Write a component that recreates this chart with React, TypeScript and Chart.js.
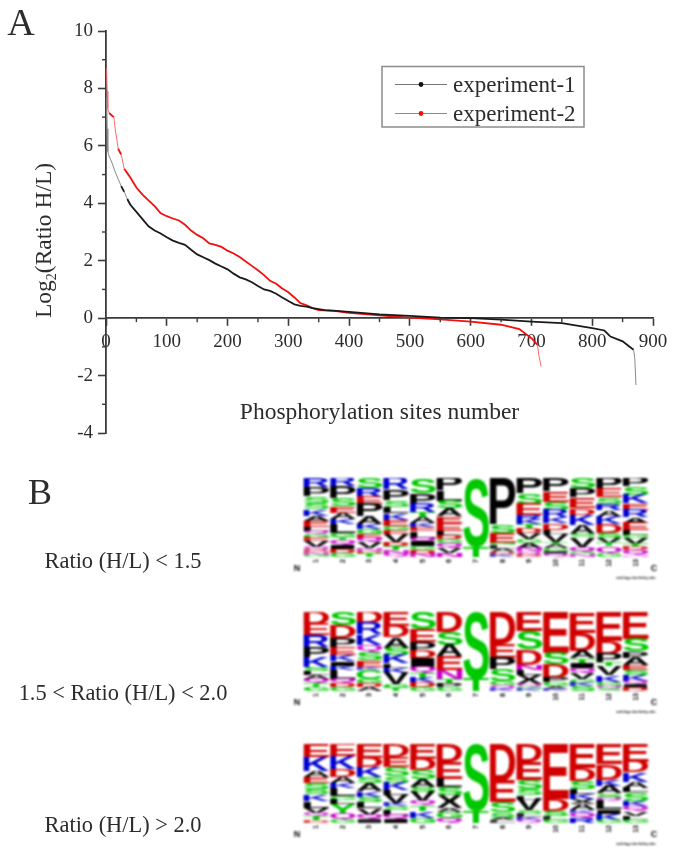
import React, { useEffect, useRef } from "react";
import { Chart, registerables } from "chart.js";

Chart.register(...registerables);

const SERIF = '"Liberation Serif", serif';
const SANS = '"Liberation Sans", sans-serif';

// Panel A: sorted log2 ratios, [site number, ratio]
const experiment1: [number, number][] = [
  [1, 7.7], [2, 6.6], [3, 5.8], [5, 5.65], [10, 5.4], [15, 5.1], [20, 4.85], [25, 4.6], [30, 4.4], [35, 4.15],
  [40, 3.95], [50, 3.7], [60, 3.45], [70, 3.2], [80, 3.05], [90, 2.95], [100, 2.82], [110, 2.7], [120, 2.62],
  [130, 2.55], [140, 2.38], [150, 2.22], [160, 2.12], [170, 2.02], [180, 1.9], [190, 1.8], [200, 1.7], [210, 1.55],
  [220, 1.42], [230, 1.35], [240, 1.25], [250, 1.12], [260, 1.0], [270, 0.95], [280, 0.85], [290, 0.72], [300, 0.6],
  [310, 0.48], [320, 0.43], [330, 0.4], [340, 0.35], [360, 0.28], [380, 0.25], [400, 0.22], [450, 0.13], [500, 0.08],
  [550, 0.02], [600, 0.0], [650, -0.05], [700, -0.12], [750, -0.17], [800, -0.35], [820, -0.43], [830, -0.64],
  [850, -0.81], [860, -0.97], [868, -1.1], [870, -1.4], [872, -2.33],
];
const experiment2: [number, number][] = [
  [1, 8.7], [2, 7.9], [3, 7.3], [5, 7.15], [10, 7.05], [13, 7.0], [15, 6.6], [18, 6.2], [20, 5.9], [25, 5.7],
  [30, 5.2], [35, 5.05], [40, 4.9], [50, 4.55], [60, 4.3], [70, 4.1], [80, 3.9], [90, 3.65], [100, 3.55], [110, 3.47],
  [120, 3.4], [130, 3.25], [140, 3.05], [150, 2.9], [160, 2.78], [170, 2.6], [180, 2.55], [190, 2.48], [200, 2.35],
  [210, 2.25], [220, 2.13], [230, 1.97], [240, 1.82], [250, 1.67], [260, 1.5], [270, 1.3], [280, 1.2], [290, 1.03],
  [300, 0.9], [310, 0.72], [320, 0.52], [330, 0.45], [340, 0.35], [350, 0.28], [375, 0.25], [400, 0.18], [450, 0.1],
  [500, 0.02], [550, -0.04], [600, -0.12], [650, -0.23], [680, -0.38], [700, -0.7], [710, -0.93], [712, -1.28], [716, -1.69],
];
const xMinorTicks = [50, 150, 250, 350, 450, 550, 650, 750, 850];
const yMinorTicks = [-3, -1, 1, 3, 5, 7, 9];
const seriesNames = ["experiment-1", "experiment-2"];
const xTitle = "Phosphorylation sites number";
const yTitleParts = ["Log", "2", "(Ratio H/L)"];

// Panel B: sequence logos. One string per position, letters top to bottom, with their stack heights.
const positions = ["1", "2", "3", "4", "5", "6", "7", "8", "9", "10", "11", "12", "13"];
const logoCaptions = ["Ratio (H/L) < 1.5", "1.5 < Ratio (H/L) < 2.0", "Ratio (H/L) > 2.0"];

const logo1Letters = [
  "RPSSKAELQGEVQDNG", "RPSEAKLGTQIDG", "SREPAKGEQVNDT", "RPSLKEGEVDTNQ", "SPRTAKELQIGDN", "PLSAEELDGQVN",
  "ST", "PSEGLADK", "PSERKTDVGANQD", "PESRKDLVTAGIQ", "SPEDKASVQGN", "PESRAKDSVTQG", "PSKERAELGVTDQN",
];
const logo1Heights = [
  [27, 27, 20, 20, 20, 15, 17, 12, 10, 12, 10, 18, 8, 7, 7, 7],
  [25, 35, 24, 20, 18, 17, 26, 13, 9, 13, 13, 12, 12],
  [30, 27, 22, 37, 22, 15, 14, 12, 13, 19, 8, 8, 10],
  [33, 32, 21, 20, 20, 18, 12, 12, 24, 12, 13, 10, 10],
  [45, 32, 25, 15, 18, 12, 12, 20, 12, 14, 10, 12, 10],
  [38, 30, 22, 24, 20, 24, 13, 13, 12, 14, 15, 12],
  [207, 30],
  [140, 24, 30, 8, 10, 10, 8, 7],
  [45, 32, 33, 15, 14, 12, 15, 18, 10, 15, 10, 10, 8],
  [40, 32, 23, 22, 18, 20, 12, 24, 9, 11, 10, 8, 8],
  [30, 28, 32, 20, 30, 28, 10, 28, 15, 8, 8],
  [33, 25, 20, 18, 20, 22, 28, 15, 14, 10, 22, 10],
  [25, 25, 25, 20, 22, 17, 22, 14, 10, 17, 10, 10, 15, 5],
];

const logo2Letters = [
  "DERPKSLAQTG", "SDPEKIKLQDG", "DRKQSEKCGDA", "EDASKLKVGT", "SEPDIQTKDG", "DSAENTPG",
  "ST", "DEPSGQK", "ESDNLXQGK", "ESDPGAK", "EDATIQVGKS", "EDPTVKGQS", "ESPAESKQID",
];
const logo2Heights = [
  [37, 33, 35, 30, 30, 12, 13, 12, 12, 10, 13],
  [40, 37, 28, 23, 20, 13, 13, 26, 12, 13, 12],
  [33, 33, 32, 22, 25, 20, 8, 27, 13, 12, 12],
  [42, 33, 32, 22, 25, 13, 15, 33, 12, 10],
  [52, 38, 27, 22, 25, 18, 15, 14, 14, 12],
  [60, 40, 33, 40, 27, 13, 12, 12],
  [200, 37],
  [97, 40, 35, 35, 12, 10, 8],
  [58, 55, 45, 15, 15, 27, 8, 7, 7],
  [122, 35, 40, 14, 12, 8, 6],
  [62, 55, 22, 13, 15, 15, 20, 10, 10, 15],
  [88, 37, 25, 12, 28, 20, 12, 8, 7],
  [80, 38, 20, 22, 14, 14, 18, 10, 11, 10],
];

const logo3Letters = [
  "EKAESSKLVQTD", "EKDAKLGLYQG", "EDKSAKSLVQI", "DESSKLVKSLQI", "EDSASVQTKG", "DELSXAGQ",
  "ST", "DESSAL", "DESSLVSLKQ", "EDSLG", "EDSLKXAKQR", "EDKASQLIKG", "EDKALSKQVLG",
];
const logo3Heights = [
  [38, 42, 18, 18, 18, 14, 20, 20, 15, 10, 12, 8],
  [36, 38, 22, 18, 16, 24, 10, 14, 28, 17, 10],
  [40, 28, 30, 18, 24, 15, 15, 20, 18, 15, 10],
  [38, 30, 28, 18, 22, 13, 25, 10, 10, 15, 12, 12],
  [44, 33, 28, 22, 14, 28, 12, 16, 20, 16],
  [52, 50, 26, 22, 38, 13, 18, 14],
  [198, 35],
  [108, 62, 32, 15, 8, 8],
  [52, 53, 27, 20, 12, 32, 10, 10, 9, 8],
  [163, 35, 15, 10, 10],
  [72, 38, 22, 15, 15, 15, 18, 8, 15, 15],
  [60, 45, 18, 22, 13, 9, 26, 12, 18, 10],
  [52, 32, 28, 17, 14, 24, 16, 16, 12, 12, 10],
];

const residueColor: Record<string, string> = {
  G: "#00c800", S: "#00c800", T: "#00c800", Y: "#00c800", C: "#00c800",
  N: "#c800c8", Q: "#c800c8",
  K: "#0000d0", R: "#0000d0", H: "#0000d0",
  D: "#d00000", E: "#d00000",
  P: "#000", A: "#000", V: "#000", L: "#000", I: "#000", M: "#000", F: "#000", W: "#000", X: "#000",
};

const axisColor = "#3a3a3a";
const textColor = "#2c2c2c";

const panelADecor = {
  id: "panelADecor",
  afterDraw(chart: any) {
    const { ctx, scales } = chart;
    const { x, y } = scales;
    const zero = y.getPixelForValue(0);
    ctx.save();
    // minor ticks
    ctx.strokeStyle = axisColor;
    ctx.lineWidth = 1.4;
    for (const v of xMinorTicks) {
      const px = x.getPixelForValue(v);
      ctx.beginPath(); ctx.moveTo(px, zero); ctx.lineTo(px, zero + 4); ctx.stroke();
    }
    for (const v of yMinorTicks) {
      const py = y.getPixelForValue(v);
      ctx.beginPath(); ctx.moveTo(x.left, py); ctx.lineTo(x.left - 4, py); ctx.stroke();
    }
    // y axis title with a real subscript
    ctx.save();
    ctx.translate(51, 318);
    ctx.rotate(-Math.PI / 2);
    ctx.fillStyle = textColor;
    ctx.textBaseline = "alphabetic";
    ctx.textAlign = "left";
    ctx.font = `23.5px ${SERIF}`;
    let cx = 0;
    ctx.fillText(yTitleParts[0], cx, 0);
    cx += ctx.measureText(yTitleParts[0]).width;
    ctx.font = `14px ${SERIF}`;
    ctx.fillText(yTitleParts[1], cx, 5);
    cx += ctx.measureText(yTitleParts[1]).width;
    ctx.font = `23.5px ${SERIF}`;
    ctx.fillText(yTitleParts[2], cx, 0);
    ctx.restore();
    // legend
    ctx.strokeStyle = "#8c8c8c";
    ctx.lineWidth = 1.5;
    ctx.strokeRect(382, 66.5, 202, 60.5);
    ctx.font = `23px ${SERIF}`;
    ctx.textAlign = "left";
    ctx.textBaseline = "middle";
    chart.data.datasets.forEach((ds: any, i: number) => {
      const ly = 84.5 + i * 29;
      ctx.strokeStyle = i === 0 ? "#777" : "#ff5a5a";
      ctx.lineWidth = 1;
      ctx.beginPath(); ctx.moveTo(395, ly); ctx.lineTo(447, ly); ctx.stroke();
      ctx.fillStyle = ds.borderColor;
      ctx.beginPath(); ctx.arc(421, ly, 2.4, 0, Math.PI * 2); ctx.fill();
      ctx.fillStyle = textColor;
      ctx.fillText(ds.label, 453, ly + 1);
    });
    ctx.restore();
  },
};

function PanelA() {
  const ref = useRef<HTMLCanvasElement>(null);
  useEffect(() => {
    const steep = (c: any) => {
      const dx = Math.max(0.01, c.p1.x - c.p0.x);
      return (c.p1.y - c.p0.y) / dx > 2.2;
    };
    const segment = (dark: string, light: string) => ({
      borderColor: (c: any) => (steep(c) ? light : dark),
      borderWidth: (c: any) => (steep(c) ? 1 : 1.8),
    });
    const chart = new Chart(ref.current!, {
      type: "scatter",
      data: {
        datasets: [
          {
            label: seriesNames[0],
            data: experiment1.map(([x, y]) => ({ x, y })),
            showLine: true,
            borderColor: "#111",
            borderWidth: 1.8,
            pointRadius: 0,
            segment: segment("#1a1a1a", "#8a8a8a"),
          },
          {
            label: seriesNames[1],
            data: experiment2.map(([x, y]) => ({ x, y })),
            showLine: true,
            borderColor: "#f01010",
            borderWidth: 1.8,
            pointRadius: 0,
            segment: segment("#f01010", "#ff6a6a"),
          },
        ],
      },
      plugins: [panelADecor],
      options: {
        animation: false,
        responsive: false,
        events: [],
        layout: { autoPadding: false, padding: { top: 31, right: 22, bottom: 27, left: 0 } },
        plugins: { legend: { display: false }, tooltip: { enabled: false } },
        scales: {
          x: {
            type: "linear",
            min: 0,
            max: 900,
            position: { y: 0 },
            border: { display: true, color: axisColor, width: 1.8 },
            grid: { display: true, drawOnChartArea: false, drawTicks: true, tickLength: 7, tickColor: axisColor, tickWidth: 1.6 },
            ticks: { stepSize: 100, padding: 5, maxRotation: 0, color: textColor, font: { family: SERIF, size: 19 } },
            title: {
              display: true,
              text: xTitle,
              color: textColor,
              font: { family: SERIF, size: 23.5 },
              padding: { top: 41, bottom: 0 },
            },
          },
          y: {
            type: "linear",
            min: -4,
            max: 10,
            afterFit: (s: any) => { s.width = 106; },
            border: { display: true, color: axisColor, width: 1.8 },
            grid: { display: true, drawOnChartArea: false, drawTicks: true, tickLength: 8, tickColor: axisColor, tickWidth: 1.6 },
            ticks: { stepSize: 2, padding: 5, color: textColor, font: { family: SERIF, size: 19 } },
          },
        },
      },
    } as any);
    return () => chart.destroy();
  }, []);
  return (
    <canvas
      ref={ref}
      width={675}
      height={460}
      style={{ position: "absolute", left: 0, top: 0, filter: "blur(0.5px)" }}
    />
  );
}

const logoLetters = {
  id: "logoLetters",
  afterDatasetsDraw(chart: any) {
    const { ctx, chartArea } = chart;
    const letters: string[] = chart.options.plugins.logoLetters.letters;
    ctx.save();
    ctx.beginPath();
    ctx.rect(chartArea.left, chartArea.top, chartArea.right - chartArea.left, chartArea.bottom - chartArea.top);
    ctx.clip();
    chart.data.datasets.forEach((_: any, level: number) => {
      chart.getDatasetMeta(level).data.forEach((bar: any, col: number) => {
        const letter = letters[col][level];
        if (!letter) return;
        const top = Math.min(bar.y, bar.base);
        const boxH = Math.abs(bar.base - bar.y);
        const boxW = bar.width;
        ctx.save();
        ctx.font = `bold 100px ${SANS}`;
        ctx.textAlign = "left";
        ctx.textBaseline = "alphabetic";
        const m = ctx.measureText(letter);
        const w = m.actualBoundingBoxLeft + m.actualBoundingBoxRight;
        const h = m.actualBoundingBoxAscent + m.actualBoundingBoxDescent;
        ctx.translate(bar.x - boxW / 2, top);
        ctx.scale(boxW / w, boxH / h);
        ctx.globalAlpha = Math.min(1, 0.3 + boxH / 6);
        ctx.fillStyle = residueColor[letter];
        ctx.fillText(letter, m.actualBoundingBoxLeft, m.actualBoundingBoxAscent);
        ctx.restore();
      });
    });
    ctx.restore();
    // end labels and credit
    ctx.save();
    ctx.fillStyle = "#000";
    ctx.textAlign = "center";
    ctx.textBaseline = "middle";
    ctx.font = `bold 9px ${SANS}`;
    ctx.fillText("N", chartArea.left - 6, chartArea.bottom + 12);
    ctx.fillText("C", chartArea.right + 5, chartArea.bottom + 12);
    ctx.font = `bold 3.8px ${SANS}`;
    ctx.fillStyle = "#222";
    ctx.fillText("weblogo.berkeley.edu", chartArea.right - 13, chartArea.bottom + 21);
    ctx.restore();
  },
};

function SequenceLogo({ top, letters, heights, total }: { top: number; letters: string[]; heights: number[][]; total: number }) {
  const ref = useRef<HTMLCanvasElement>(null);
  useEffect(() => {
    const depth = Math.max(...heights.map((h) => h.length));
    const datasets = Array.from({ length: depth }, (_, level) => ({
      data: heights.map((h) => h[level] ?? 0),
      backgroundColor: "transparent",
      borderWidth: 0,
      categoryPercentage: 1,
      barPercentage: 0.97,
    }));
    const chart = new Chart(ref.current!, {
      type: "bar",
      data: { labels: positions, datasets },
      plugins: [logoLetters],
      options: {
        animation: false,
        responsive: false,
        events: [],
        layout: { autoPadding: false, padding: { top: 8, right: 26, bottom: 0, left: 13 } },
        plugins: { legend: { display: false }, tooltip: { enabled: false }, logoLetters: { letters } },
        scales: {
          x: {
            stacked: true,
            afterFit: (s: any) => { s.height = 33; },
            grid: { display: false, drawTicks: false },
            border: { display: false },
            ticks: {
              autoSkip: false,
              minRotation: 90,
              maxRotation: 90,
              padding: 2,
              color: "#000",
              font: { family: SANS, size: 7, weight: "bold" },
            },
          },
          y: { stacked: true, display: false, reverse: true, min: 0, max: total },
        },
      },
    } as any);
    return () => chart.destroy();
  }, []);
  return (
    <canvas
      ref={ref}
      width={385}
      height={120}
      style={{ position: "absolute", left: 290, top: top - 8, filter: "blur(0.9px)" }}
    />
  );
}

function Label({ text, x, y, size }: { text: string; x: number; y: number; size: number }) {
  return (
    <div
      style={{
        position: "absolute",
        left: x,
        top: y,
        transform: "translate(-50%, -50%)",
        whiteSpace: "nowrap",
        fontFamily: SERIF,
        fontSize: size,
        lineHeight: 1,
        color: textColor,
        filter: "blur(0.4px)",
      }}
    >
      {text}
    </div>
  );
}

export default function App() {
  useEffect(() => {
    document.body.style.margin = "0";
    document.body.style.background = "#fff";
  }, []);
  return (
    <div style={{ position: "relative", width: 675, height: 854, overflow: "hidden", background: "#fff" }}>
      <PanelA />
      <Label text="A" x={21} y={22} size={38} />
      <Label text="B" x={40} y={492} size={36} />
      <Label text={logoCaptions[0]} x={123} y={561} size={22.4} />
      <Label text={logoCaptions[1]} x={123} y={693} size={22.4} />
      <Label text={logoCaptions[2]} x={123} y={825} size={22.4} />
      <SequenceLogo top={478} letters={logo1Letters} heights={logo1Heights} total={237} />
      <SequenceLogo top={612} letters={logo2Letters} heights={logo2Heights} total={237} />
      <SequenceLogo top={744} letters={logo3Letters} heights={logo3Heights} total={233} />
    </div>
  );
}
